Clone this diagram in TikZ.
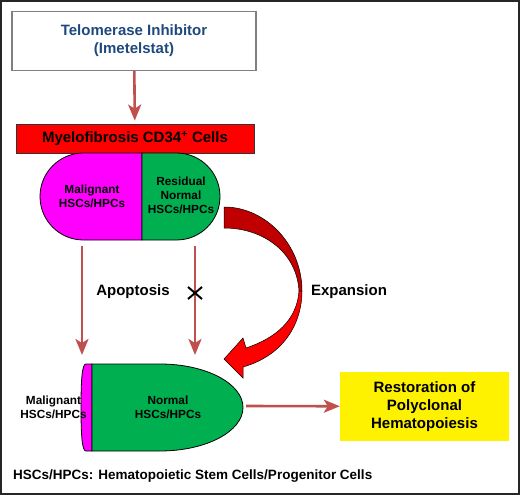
\documentclass[tikz,border=0pt]{standalone}
\usepackage{fontspec}
\setmainfont{Liberation Sans}
\usetikzlibrary{arrows.meta,positioning}
\definecolor{linkred}{HTML}{C0504D}
\definecolor{inhblue}{HTML}{1F497D}
\definecolor{cellgreen}{HTML}{00B050}
\definecolor{cellmagenta}{HTML}{FF00FF}
\definecolor{darkribbon}{HTML}{C00000}
\begin{document}
\begin{tikzpicture}[x=1pt, y=-1pt, node distance={15mm}, font=\bfseries,
	big/.style = {font=\bfseries\fontsize{15}{18}\selectfont, align=center, inner sep=0pt},
	small/.style = {font=\bfseries\fontsize{11.8}{14}\selectfont, align=center, inner sep=0pt},
	link/.style = {draw=linkred, line width=2.6pt, -{Stealth[length=16pt, width=13pt, inset=4pt]}},
	cell/.style = {draw=black, line width=0.8pt}]
	\useasboundingbox (0,0) rectangle (520,495);
	\draw[line width=2pt, draw=black!85] (1,1) rectangle (519,494);
	% top of the scheme
	\node[draw=black!50, line width=1.2pt, minimum width=244pt, minimum height=59pt, big, text=inhblue] (inh) at (134,41) {Telomerase Inhibitor\\(Imetelstat)};
	\node[draw=black!80, fill=red, line width=0.8pt, minimum width=238pt, minimum height=29pt, big] (cd34) at (135,138.5) {Myelofibrosis CD34\textsuperscript{+} Cells};
	\path (inh) edge[link, shorten >=3pt] (cd34);
	% capsule of MF cells
	\filldraw[cell, fill=cellmagenta] (142,153) -- (83.5,153) arc[start angle=-90, end angle=-270, radius=43.5] -- (142,240) -- cycle;
	\filldraw[cell, fill=cellgreen] (142,153) -- (176.5,153) arc[start angle=-90, end angle=90, radius=43.5] -- (142,240) -- cycle;
	\node[small] (mal) at (92,196) {Malignant\\HSCs/HPCs};
	\node[small] (res) at (181,195.5) {Residual\\Normal\\HSCs/HPCs};
	% cells after treatment
	\filldraw[cell, fill=cellmagenta] (92,364) -- (86,364) .. controls (82,364) and (81,380) .. (81,407.5) .. controls (81,435) and (82,451) .. (86,451) -- (92,451) -- cycle;
	\filldraw[cell, fill=cellgreen] (92,364) -- (160,364) arc[start angle=-90, end angle=90, x radius=83, y radius=43.5] -- (92,451) -- cycle;
	\node[small] (norm) at (168,407) {Normal\\HSCs/HPCs};
	\node[small] (malleft) at (53.5,407) {Malignant\\HSCs/HPCs};
	\coordinate (maltop) at (82,246);
	\coordinate (malend) at (82,355);
	\coordinate (restop) at (195,246);
	\coordinate (resend) at (195,355);
	\coordinate (normtip) at (246,406);
	\path (maltop) edge[link] (malend)
		(restop) edge[link] (resend);
	\node[big] (apop) at (133,292) {Apoptosis};
	\draw[line width=2pt] (188,287) -- (202,299) (202,287) -- (188,299);
	% expansion ribbon
	\filldraw[fill=darkribbon, draw=black, line width=0.5pt] (224,207) .. controls (266,207) and (302,245) .. (302,291) -- (299,291) .. controls (297,253) and (264,228) .. (224,228) -- cycle;
	\filldraw[fill=red, draw=black, line width=0.5pt] (302,291) .. controls (302,322) and (285,355) .. (243,367) -- (243,378) -- (224,359) -- (243,338) -- (246,348) .. controls (276,338) and (297,320) .. (299,291) -- cycle;
	\node[big] (exp) at (349,292) {Expansion};
	% outcome
	\node[fill=yellow, minimum width=169pt, minimum height=69pt, big] (rest) at (424.5,406.5) {Restoration of\\Polyclonal\\Hematopoiesis};
	\path (normtip) edge[link] (rest);
	\node[font=\bfseries\fontsize{13.5}{16}\selectfont, inner sep=0pt, anchor=west] (note) at (13,476.5) {HSCs/HPCs: Hematopoietic Stem Cells/Progenitor Cells};
\end{tikzpicture}
\end{document}
